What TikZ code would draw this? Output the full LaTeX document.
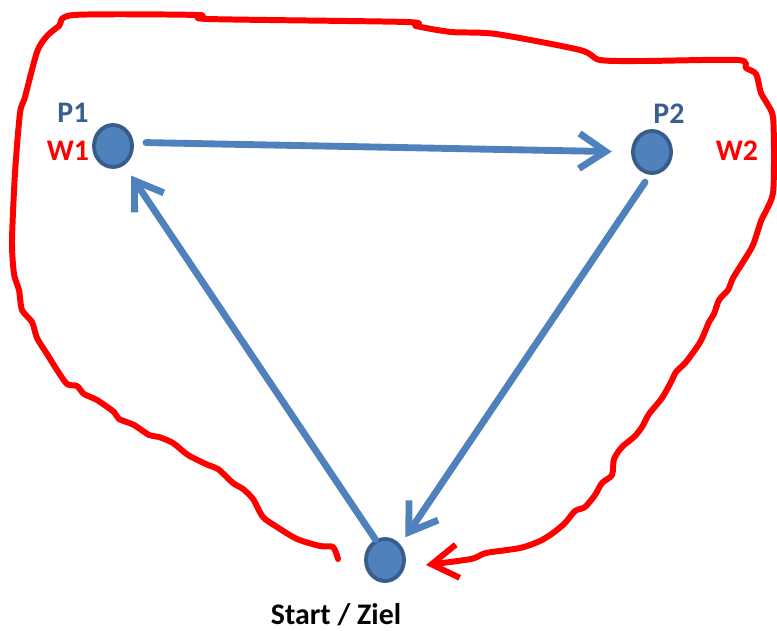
\documentclass[tikz,border=0pt]{standalone}
\usepackage{fontspec}
\setmainfont{Carlito}
\usepackage{tikz}
\usetikzlibrary{arrows.meta, shapes.geometric}
\definecolor{ptfill}{HTML}{4F81BD}
\definecolor{ptline}{HTML}{385D8A}
\definecolor{ptlabel}{HTML}{3A5F8F}
\tikzset{
  point/.style={
    ellipse, draw=ptline, fill=ptfill, line width=2.2pt,
    minimum width=0.76cm, minimum height=0.84cm, inner sep=0pt
  },
  plabel/.style={font=\fontsize{17}{19}\selectfont\bfseries, text=ptlabel},
  wlabel/.style={font=\fontsize{17}{19}\selectfont\bfseries, text=red},
  flow/.style={
    draw=ptfill, line width=3.9pt, line cap=round,
    -{Straight Barb[length=15pt, width=20pt, line width=3.9pt]}
  },
  wayline/.style={
    draw=red, line width=3.4pt, line join=round, line cap=round,
    -{Straight Barb[length=15pt, width=19pt, line width=3.4pt]}
  }
}

\begin{document}
\begin{tikzpicture}[x=0.02cm, y=-0.02cm]
  \useasboundingbox (0,0) rectangle (777,631);

  \node[point] (P1) at (113,146) {};
  \node[point] (P2) at (652,152) {};
  \node[point] (S) at (385,560) {};

  \node[plabel] (lP1) at (73,113) {P1};
  \node[wlabel] (lW1) at (68,151) {W1};
  \node[plabel] (lP2) at (669,114) {P2};
  \node[wlabel] (lW2) at (737,151) {W2};
  \node[font=\fontsize{17}{19}\selectfont\bfseries] (lS) at (336,615) {Start / Ziel};

  % triangle
  \draw[flow, shorten <=7pt, shorten >=11pt] (P1.10) -- (P2.180);
  \draw[flow, shorten <=5pt, shorten >=5pt] (P2.265) -- (S.45);
  \draw[flow, shorten >=7pt] (S.115) -- (P1.300);

  % hand-drawn way round
  \draw[wayline] plot[smooth, tension=0.45] coordinates {
    (338,559) (333,547) (320,546) (297,539) (277,527) (263,517) (253,499)
    (243,489) (233,483) (218,469) (208,465) (188,455) (173,443) (159,437)
    (149,435) (134,425) (119,419) (114,412) (97,400) (84,394) (77,386)
    (67,384) (57,370) (47,354) (37,338) (32,322) (22,310) (19,290)
    (14,274) (12,241) (15,173) (20,113) (25,97) (37,52) (47,36) (59,26)
    (74,15) (198,15) (208,19) (406,22) (416,26) (451,32) (496,34)
    (580,50) (600,60) (644,61) (738,60) (746,68) (756,74) (761,93)
    (768,105) (773,117) (774,153) (773,193) (766,211) (761,221) (753,245)
    (743,262) (733,278) (728,290) (719,300) (714,314) (709,322) (704,334)
    (699,344) (686,362) (676,372) (671,382) (662,398) (649,414) (642,427)
    (634,437) (622,447) (614,459) (612,475) (602,483) (595,495) (585,507)
    (575,511) (565,523) (553,533) (540,541) (520,548) (486,553) (471,559)
    (426,565)};
\end{tikzpicture}
\end{document}
